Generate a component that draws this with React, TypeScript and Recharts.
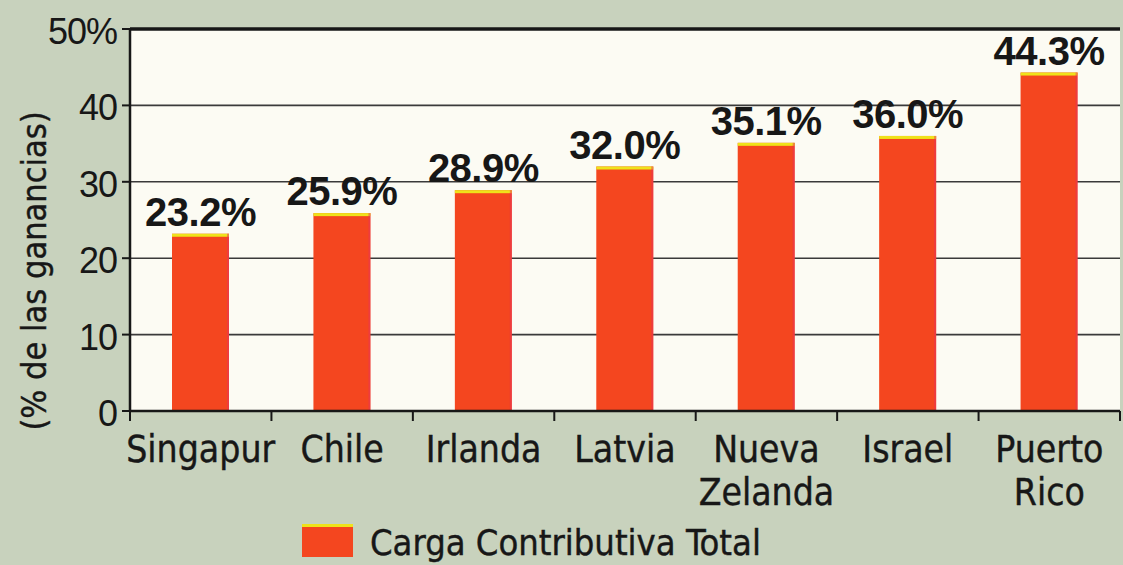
import { BarChart, Bar, XAxis, YAxis, CartesianGrid, Legend, LabelList, ReferenceLine } from 'recharts';

const countries = ['Singapur', 'Chile', 'Irlanda', 'Latvia', 'Nueva Zelanda', 'Israel', 'Puerto Rico'];
const cargaTotal = [23.2, 25.9, 28.9, 32.0, 35.1, 36.0, 44.3];
const yTicks = [0, 10, 20, 30, 40, 50];
const seriesName = 'Carga Contributiva Total';
const yLabel = '(% de las ganancias)';

const data = countries.map((c, i) => ({ country: c, total: cargaTotal[i] }));

const narrow = '"DejaVu Sans Condensed", "Liberation Sans Narrow", sans-serif';
const wide = '"Liberation Sans", Arial, sans-serif';
const ink = '#171717';
const red = '#f4461f';
const yellow = '#efe21a';

const RedBar = (p: any) => {
    const { x, y, width, height } = p;
    if (!height) return null;
    return (
        <g>
            <rect x={x} y={y} width={width} height={height} fill={red} />
            <rect x={x} y={y} width={width} height={3} fill={yellow} />
            <rect x={x + width - 2} y={y} width={2} height={height} fill="#e8325e" opacity={0.5} />
        </g>
    );
};

const CountryTick = (props: any) => {
    const { x, y, payload } = props;
    const half = payload.offset || 70.7;
    const lines = String(payload.value).split(' ');
    return (
        <g>
            <line x1={x - half} x2={x - half} y1={y} y2={y + 10} stroke={ink} strokeWidth={2} />
            {payload.index === countries.length - 1 && (
                <line x1={x + half} x2={x + half} y1={y} y2={y + 10} stroke={ink} strokeWidth={2} />
            )}
            <text x={x} y={y} textAnchor="middle" fontFamily={narrow} fontSize={37} fill={ink} stroke={ink} strokeWidth={0.4}>
                {lines.map((l, i) => (
                    <tspan key={i} x={x} y={y + 51 + i * 43}>{l}</tspan>
                ))}
            </text>
        </g>
    );
};

const PctTick = (props: any) => {
    const { x, y, payload } = props;
    return (
        <text x={x} y={y + 15} textAnchor="end" fontFamily={wide} fontSize={36} fill={ink} letterSpacing={-1}>
            {payload.value === 50 ? '50%' : payload.value}
        </text>
    );
};

const ValueLabel = (props: any) => {
    const { x, y, width, value } = props;
    return (
        <text x={x + width / 2} y={y - 8} textAnchor="middle" fontFamily={wide} fontWeight="bold" fontSize={40} fill={ink} letterSpacing={-0.5}>
            {Number(value).toFixed(1)}%
        </text>
    );
};

const AxisTitle = (props: any) => {
    const vb = props.viewBox || { x: 0, y: 29, width: 130, height: 382 };
    const cx = vb.x + 34;
    const cy = vb.y + vb.height / 2 + 51;
    return (
        <text x={cx} y={cy} transform={`rotate(-90 ${cx} ${cy})`} textAnchor="middle" dominantBaseline="central"
            fontFamily={narrow} fontSize={34} fill={ink} stroke={ink} strokeWidth={0.4}>
            {yLabel}
        </text>
    );
};

const LegendBox = () => (
    <div style={{ position: 'relative', height: 44, width: 1123 }}>
        <span style={{
            position: 'absolute', left: 302, top: 3, width: 51, height: 30,
            background: red, borderTop: `3px solid ${yellow}`,
        }} />
        <span style={{
            position: 'absolute', left: 370, top: 0, fontFamily: narrow, fontSize: 36,
            lineHeight: '44px', color: ink, WebkitTextStroke: `0.4px ${ink}`, whiteSpace: 'nowrap',
        }}>{seriesName}</span>
    </div>
);

export default function App() {
    return (
        <div style={{ position: 'absolute', left: 0, top: 0, width: 1123, height: 565, background: '#c8d2bd' }}>
            <BarChart
                width={1123}
                height={565}
                data={data}
                margin={{ top: 29, right: 3, left: 0, bottom: 0 }}
                barSize={57}
            >
                <CartesianGrid vertical={false} stroke="#3a3a3a" strokeWidth={1.6} fill="#fcfbf3" />
                <XAxis
                    dataKey="country"
                    height={110}
                    interval={0}
                    tickSize={0}
                    tickMargin={0}
                    tickLine={false}
                    axisLine={{ stroke: ink, strokeWidth: 2.5 }}
                    tick={<CountryTick />}
                />
                <YAxis
                    width={130}
                    domain={[0, 50]}
                    ticks={yTicks}
                    interval={0}
                    tickSize={8}
                    tickMargin={5}
                    tickLine={{ stroke: ink, strokeWidth: 2 }}
                    axisLine={{ stroke: ink, strokeWidth: 2.5 }}
                    tick={<PctTick />}
                    label={<AxisTitle />}
                />
                <YAxis
                    yAxisId="frame"
                    orientation="right"
                    width={0}
                    domain={[0, 50]}
                    tick={false}
                    tickLine={false}
                    axisLine={{ stroke: ink, strokeWidth: 2 }}
                />
                <ReferenceLine y={50} stroke={ink} strokeWidth={3.5} />
                <Legend verticalAlign="bottom" height={44} wrapperStyle={{ left: 0, width: 1123, height: 44 }} content={<LegendBox />} />
                <Bar dataKey="total" name={seriesName} shape={<RedBar />} isAnimationActive={false}>
                    <LabelList dataKey="total" content={<ValueLabel />} />
                </Bar>
            </BarChart>
        </div>
    );
}
